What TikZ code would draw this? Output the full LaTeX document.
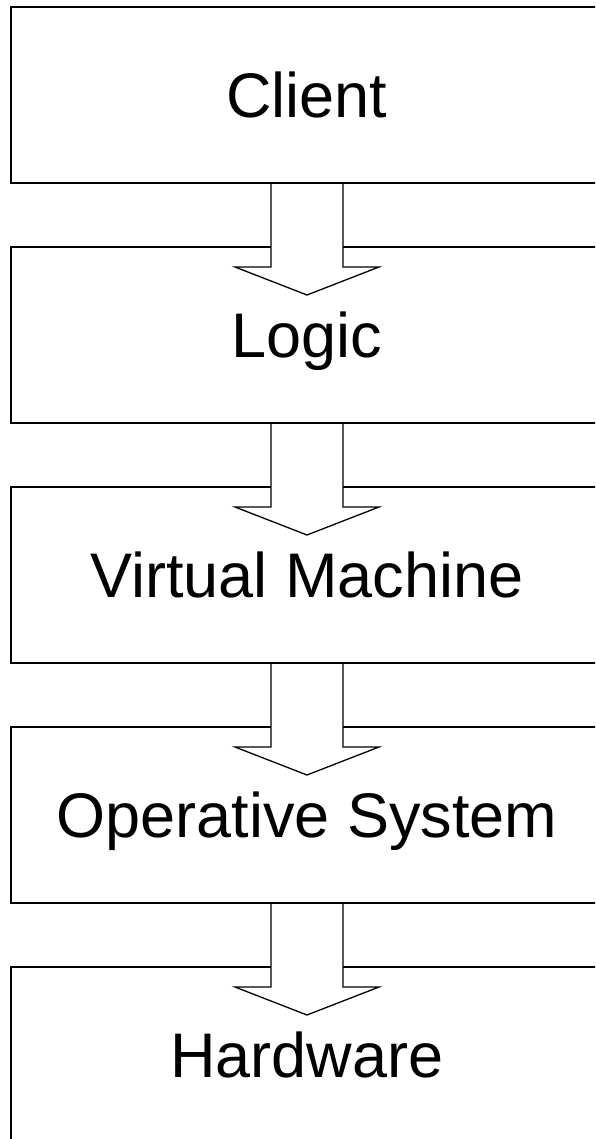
\documentclass[tikz,border=0pt]{standalone}
\usepackage{fontspec}
\setmainfont{Liberation Sans}
\usetikzlibrary{calc}
\tikzset{
  layer/.style={draw, line width=2.2pt, fill=white, outer sep=0pt, inner sep=0pt,
    minimum width=592pt, minimum height=176pt,
    text height=45pt, text depth=0pt,
    font=\fontsize{63}{70}\selectfont},
  blockarrow/.style={draw, fill=white, line width=1.3pt, line join=miter}
}
\begin{document}
\begin{tikzpicture}[x=1pt,y=-1pt]
\useasboundingbox (0,0) rectangle (595,1139);
\clip (0,0) rectangle (595,1139);
% stacked layers
\node[layer] (client)   at (307,95)   {Client};
\node[layer] (logic)    at (307,335)  {Logic};
\node[layer] (vm)       at (307,575)  {Virtual Machine};
\node[layer] (os)       at (307,815)  {Operative System};
\node[layer] (hardware) at (307,1055) {Hardware};
% block arrows between consecutive layers
\foreach \a/\b in {client/logic, logic/vm, vm/os, os/hardware}{
  \draw[blockarrow]
    ($(\a.south)+(-36,1.1)$) -- ($(\b.north)+(-36,20)$) -- ($(\b.north)+(-72,20)$)
    -- ($(\b.north)+(0,48)$) -- ($(\b.north)+(72,20)$) -- ($(\b.north)+(36,20)$)
    -- ($(\a.south)+(36,1.1)$);
}
\end{tikzpicture}
\end{document}
